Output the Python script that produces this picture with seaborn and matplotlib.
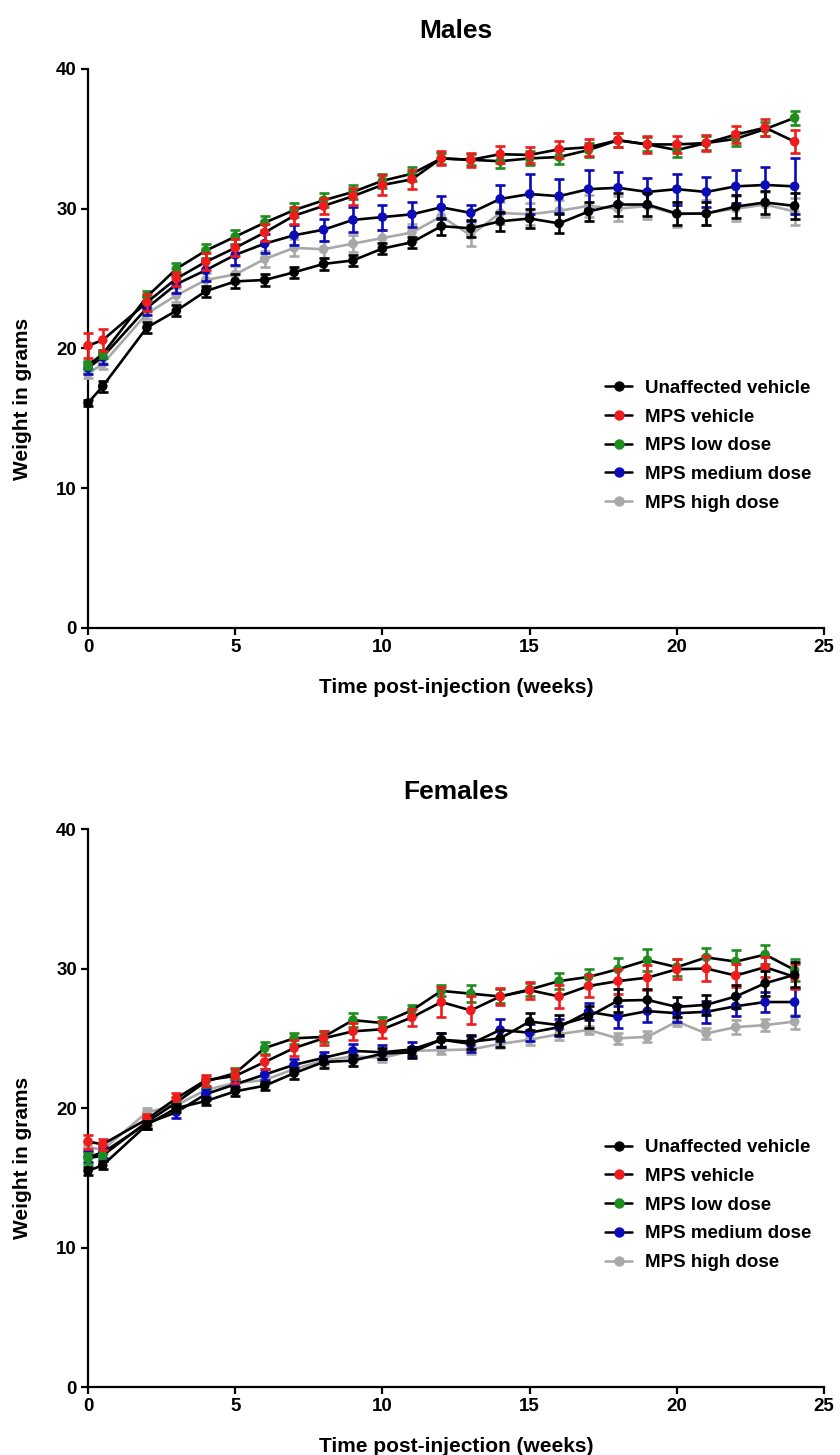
import matplotlib
matplotlib.use("Agg")
import matplotlib.pyplot as plt
import matplotlib.font_manager as fm
from matplotlib.lines import Line2D
import numpy as np
import pandas as pd
import seaborn as sns

weeks = [0, 0.5, 2, 3, 4, 5, 6, 7, 8, 9, 10, 11, 12, 13, 14, 15, 16, 17, 18, 19, 20, 21, 22, 23, 24]

groups = ["Unaffected vehicle", "MPS vehicle", "MPS low dose", "MPS medium dose", "MPS high dose"]
marker_colors = ["#000000", "#ee1c1c", "#1e8c1e", "#0b0bb8", "#a8a8a8"]
line_colors = ["#000000", "#000000", "#000000", "#000000", "#a8a8a8"]

# males: mean weight (g)
m_unaffected = [16.1, 17.3, 21.5, 22.7, 24.1, 24.8, 24.9, 25.45, 26.05, 26.3, 27.15, 27.6, 28.75,
                28.6, 29.1, 29.3, 28.95, 29.8, 30.3, 30.3, 29.65, 29.65, 30.15, 30.45, 30.2]
m_vehicle = [20.2, 20.6, 23.3, 25.0, 26.2, 27.2, 28.3, 29.5, 30.2, 30.9, 31.7, 32.1, 33.6,
             33.5, 33.9, 33.85, 34.25, 34.4, 34.9, 34.6, 34.6, 34.7, 35.3, 35.8, 34.8]
m_low = [18.8, 19.6, 23.7, 25.7, 27.0, 28.0, 29.0, 29.9, 30.6, 31.2, 32.0, 32.5, 33.6,
         33.5, 33.4, 33.6, 33.7, 34.2, 34.9, 34.6, 34.2, 34.7, 35.0, 35.7, 36.5]
m_medium = [18.6, 19.4, 22.9, 24.6, 25.6, 26.7, 27.5, 28.1, 28.5, 29.2, 29.4, 29.6, 30.1,
            29.7, 30.7, 31.05, 30.9, 31.4, 31.5, 31.2, 31.4, 31.2, 31.6, 31.7, 31.6]
m_high = [18.2, 18.9, 22.5, 23.8, 24.9, 25.3, 26.4, 27.2, 27.1, 27.5, 27.9, 28.3, 29.45,
          28.1, 29.7, 29.6, 29.85, 30.2, 30.0, 30.2, 29.6, 29.7, 30.0, 30.3, 29.8]

# males: SEM
m_unaffected_sem = [0.2, 0.4, 0.4, 0.4, 0.4, 0.5, 0.4, 0.4, 0.4, 0.4, 0.4, 0.4, 0.6,
                    0.6, 0.7, 0.7, 0.7, 0.7, 0.8, 0.8, 0.8, 0.8, 0.8, 0.8, 0.9]
m_vehicle_sem = [0.9, 0.8, 0.6, 0.5, 0.6, 0.6, 0.6, 0.6, 0.6, 0.6, 0.7, 0.7, 0.5,
                 0.5, 0.6, 0.6, 0.6, 0.6, 0.5, 0.6, 0.6, 0.6, 0.6, 0.6, 0.8]
m_low_sem = [0.3, 0.3, 0.4, 0.4, 0.5, 0.5, 0.5, 0.5, 0.5, 0.5, 0.5, 0.5, 0.4,
             0.4, 0.5, 0.5, 0.5, 0.5, 0.5, 0.5, 0.5, 0.5, 0.5, 0.5, 0.5]
m_medium_sem = [0.4, 0.5, 0.5, 0.6, 0.8, 0.7, 0.7, 0.7, 0.8, 0.9, 0.9, 0.9, 0.8,
                0.6, 1.0, 1.4, 1.2, 1.4, 1.1, 1.0, 1.1, 1.1, 1.2, 1.3, 2.0]
m_high_sem = [0.3, 0.4, 0.4, 0.5, 0.5, 0.6, 0.6, 0.6, 0.6, 0.6, 0.6, 0.6, 0.6,
              0.8, 0.8, 0.8, 0.8, 0.8, 0.9, 0.9, 0.9, 0.9, 0.9, 0.9, 1.0]

# females: mean weight (g)
f_unaffected = [15.5, 15.9, 18.8, 20.0, 20.5, 21.2, 21.6, 22.5, 23.3, 23.4, 23.9, 24.0, 24.9,
                24.75, 25.0, 26.2, 25.95, 26.55, 27.7, 27.75, 27.25, 27.4, 28.0, 28.95, 29.55]
f_vehicle = [17.6, 17.4, 19.2, 20.7, 22.0, 22.3, 23.3, 24.3, 25.0, 25.5, 25.65, 26.5, 27.6,
             27.0, 28.0, 28.45, 28.0, 28.75, 29.1, 29.35, 29.95, 30.0, 29.5, 30.1, 29.4]
f_low = [16.4, 16.6, 19.0, 20.4, 21.9, 22.5, 24.3, 25.0, 25.1, 26.3, 26.1, 27.0, 28.4,
         28.2, 28.0, 28.5, 29.1, 29.4, 29.95, 30.6, 30.1, 30.8, 30.5, 31.0, 29.9]
f_medium = [16.5, 16.8, 18.9, 19.7, 21.0, 21.7, 22.4, 23.1, 23.6, 24.1, 24.0, 24.2, 24.9,
            24.6, 25.6, 25.4, 25.8, 26.9, 26.55, 26.95, 26.8, 26.9, 27.3, 27.6, 27.6]
f_high = [17.2, 17.0, 19.7, 20.2, 21.3, 21.8, 22.0, 22.8, 23.4, 23.7, 23.6, 24.1, 24.15,
          24.2, 24.6, 24.9, 25.3, 25.6, 25.0, 25.1, 26.2, 25.35, 25.8, 25.95, 26.2]

# females: SEM
f_unaffected_sem = [0.3, 0.3, 0.3, 0.3, 0.3, 0.3, 0.3, 0.4, 0.4, 0.4, 0.4, 0.4, 0.5,
                    0.5, 0.6, 0.6, 0.7, 0.8, 0.8, 0.8, 0.7, 0.7, 0.8, 0.9, 0.9]
f_vehicle_sem = [0.5, 0.4, 0.4, 0.4, 0.4, 0.5, 0.5, 0.6, 0.5, 0.6, 0.6, 0.6, 1.1,
                 1.0, 0.6, 0.6, 0.8, 0.8, 0.9, 0.9, 0.7, 0.9, 0.8, 0.7, 0.9]
f_low_sem = [0.4, 0.4, 0.4, 0.4, 0.4, 0.4, 0.4, 0.4, 0.4, 0.5, 0.4, 0.4, 0.4,
             0.6, 0.5, 0.5, 0.6, 0.6, 0.8, 0.8, 0.6, 0.7, 0.8, 0.7, 0.8]
f_medium_sem = [0.4, 0.4, 0.4, 0.4, 0.4, 0.4, 0.4, 0.4, 0.4, 0.5, 0.5, 0.5, 0.5,
                0.6, 0.8, 0.6, 0.6, 0.6, 0.8, 0.8, 0.6, 0.8, 0.7, 0.7, 1.0]
f_high_sem = [0.3, 0.3, 0.3, 0.3, 0.3, 0.3, 0.3, 0.3, 0.3, 0.3, 0.3, 0.3, 0.3,
              0.3, 0.3, 0.4, 0.4, 0.3, 0.4, 0.4, 0.3, 0.4, 0.5, 0.4, 0.5]

sns.set_theme(style="ticks", rc={
    "text.color": "black", "axes.labelcolor": "black", "axes.edgecolor": "black",
    "xtick.color": "black", "ytick.color": "black",
})
_fonts = {f.name for f in fm.fontManager.ttflist}
FONT = ["Liberation Sans Narrow", "Liberation Sans", "DejaVu Sans"]
plt.rcParams["font.family"] = [f for f in FONT if f in _fonts]
plt.rcParams["font.weight"] = "bold"


def draw_panel(ax, title, means, sems):
    # draw in reverse so the unaffected group ends up on top
    for i in reversed(range(len(groups))):
        z = 10 + (len(groups) - i) * 3
        ax.errorbar(weeks, means[i], yerr=sems[i], fmt="none", ecolor=marker_colors[i],
                    elinewidth=1.9, capsize=3.3, capthick=1.9, zorder=z, clip_on=False)
        df = pd.DataFrame({"week": weeks, "weight": means[i]})
        sns.lineplot(data=df, x="week", y="weight", color=line_colors[i], lw=1.9,
                     ax=ax, zorder=z + 1, clip_on=False)
        sns.scatterplot(data=df, x="week", y="weight", color=marker_colors[i], s=48,
                        edgecolor="none", ax=ax, zorder=z + 2, clip_on=False)

    ax.set_xlim(0, 25)
    ax.set_ylim(0, 40)
    ax.set_xticks([0, 5, 10, 15, 20, 25])
    ax.set_yticks([0, 10, 20, 30, 40])
    sns.despine(ax=ax)
    for s in ["left", "bottom"]:
        ax.spines[s].set_linewidth(1.6)
    ax.tick_params(axis="both", width=1.6, length=5, labelsize=13.5, pad=3)
    for lab in ax.get_xticklabels() + ax.get_yticklabels():
        lab.set_fontweight("bold")
    ax.set_title(title, fontsize=19, fontweight="bold", pad=22)
    ax.set_xlabel("Time post-injection (weeks)", fontsize=15, fontweight="bold", labelpad=16)
    ax.set_ylabel("Weight in grams", fontsize=15, fontweight="bold")
    ax.yaxis.set_label_coords(-0.076, 0.41)

    handles = [Line2D([0], [0], color=line_colors[i], lw=1.8, marker="o", markersize=6.5,
                      markerfacecolor=marker_colors[i], markeredgecolor=marker_colors[i])
               for i in range(len(groups))]
    ax.legend(handles, groups, loc="center left", bbox_to_anchor=(0.68, 0.326),
              frameon=False, handlelength=1.4, handletextpad=0.7, labelspacing=0.62,
              prop={"size": 13.5, "weight": "bold"})


fig = plt.figure(figsize=(8.4, 14.55), dpi=100)
ax_m = fig.add_axes([0.1048, 0.5684, 0.8762, 0.3842])
ax_f = fig.add_axes([0.1048, 0.0467, 0.8762, 0.3835])

draw_panel(ax_m, "Males",
           [m_unaffected, m_vehicle, m_low, m_medium, m_high],
           [m_unaffected_sem, m_vehicle_sem, m_low_sem, m_medium_sem, m_high_sem])
draw_panel(ax_f, "Females",
           [f_unaffected, f_vehicle, f_low, f_medium, f_high],
           [f_unaffected_sem, f_vehicle_sem, f_low_sem, f_medium_sem, f_high_sem])

fig.savefig("out.png", dpi=100)
